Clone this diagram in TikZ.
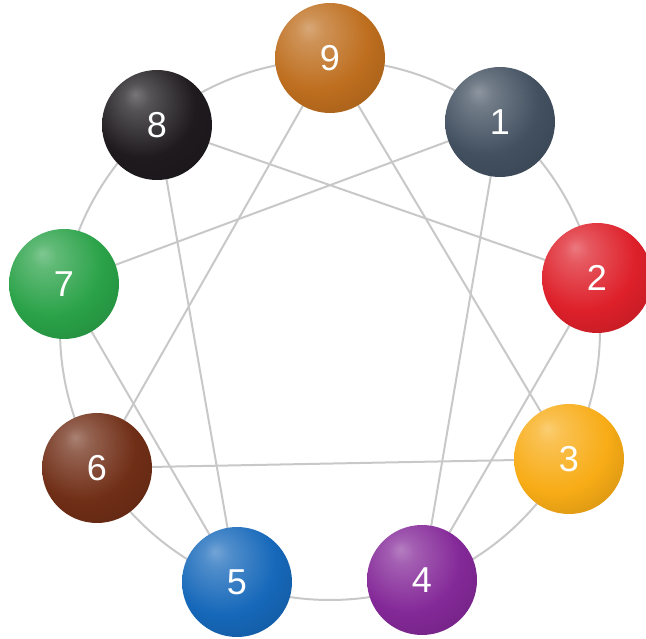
\documentclass[tikz,border=0pt]{standalone}
\usepackage{fontspec}
\setmainfont{Liberation Sans}
\usetikzlibrary{backgrounds}
\pgfdeclareradialshading[sph]{softball}{\pgfqpoint{-10bp}{14bp}}{%
  color(0bp)=(sph!60!white);
  color(6bp)=(sph!75!white);
  color(24bp)=(sph);
  color(42bp)=(sph!82!black);
  color(56bp)=(sph!62!black);
  color(70bp)=(sph!55!black)}
\definecolor{c9}{RGB}{190,110,30}
\definecolor{c1}{RGB}{66,80,96}
\definecolor{c2}{RGB}{222,32,42}
\definecolor{c3}{RGB}{248,172,22}
\definecolor{c4}{RGB}{132,40,152}
\definecolor{c5}{RGB}{22,104,186}
\definecolor{c6}{RGB}{112,46,22}
\definecolor{c7}{RGB}{42,162,72}
\definecolor{c8}{RGB}{30,26,30}
\definecolor{linegray}{RGB}{200,200,200}
\tikzset{
  ball/.style={circle, minimum size=110pt, inner sep=0pt, shading=softball,
    /utils/exec={\colorlet{sph}{#1}}, text=white,
    font=\fontsize{36}{36}\selectfont},
  conn/.style={draw=linegray, line width=2pt}
}
\begin{document}
\begin{tikzpicture}[x=1pt,y=1pt]
\useasboundingbox (0,0) rectangle (646,638);
\coordinate (c) at (330,308);
\node[ball=c9] (n9) at (330,580) {9};
\node[ball=c1] (n1) at (500,516) {1};
\node[ball=c2] (n2) at (597,360) {2};
\node[ball=c3] (n3) at (569,179) {3};
\node[ball=c4] (n4) at (422,58) {4};
\node[ball=c5] (n5) at (237,56) {5};
\node[ball=c6] (n6) at (97,170) {6};
\node[ball=c7] (n7) at (64,354) {7};
\node[ball=c8] (n8) at (157,513) {8};
\begin{scope}[on background layer]
\draw[conn] (c) circle (270);
\draw[conn] (n9.center) -- (n3.center) -- (n6.center) -- cycle;
\draw[conn] (n1.center) -- (n4.center) -- (n2.center) -- (n8.center) -- (n5.center) -- (n7.center) -- cycle;
\end{scope}
\end{tikzpicture}
\end{document}
